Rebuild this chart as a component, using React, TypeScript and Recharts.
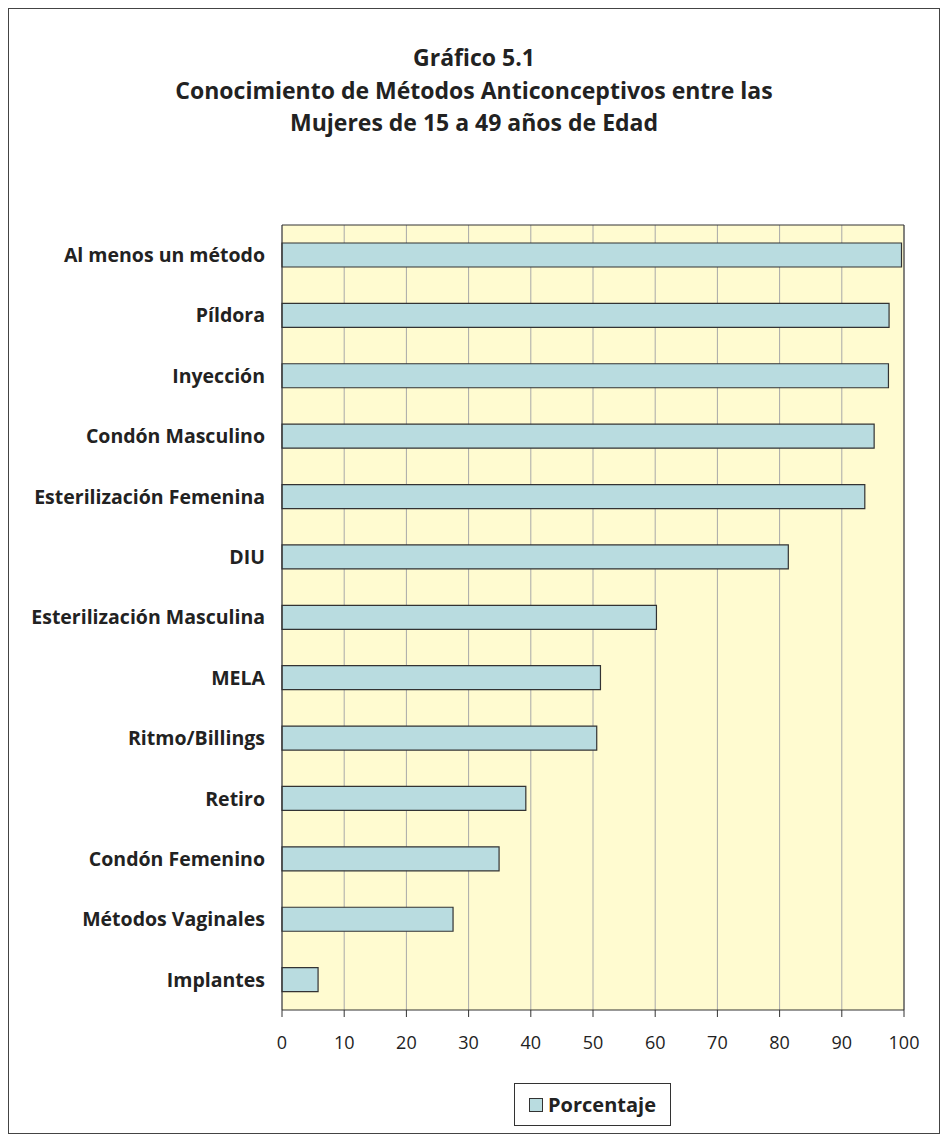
import { Bar, BarChart, CartesianGrid, XAxis, YAxis } from "recharts";

const methods = [
  "Al menos un método",
  "Píldora",
  "Inyección",
  "Condón Masculino",
  "Esterilización Femenina",
  "DIU",
  "Esterilización Masculina",
  "MELA",
  "Ritmo/Billings",
  "Retiro",
  "Condón Femenino",
  "Métodos Vaginales",
  "Implantes",
];

const percentages = [99.6, 97.6, 97.5, 95.2, 93.7, 81.4, 60.2, 51.2, 50.6, 39.2, 34.9, 27.5, 5.8];

const xTicks = [0, 10, 20, 30, 40, 50, 60, 70, 80, 90, 100];
const bandEdges = [0, 1, 2, 3, 4, 5, 6, 7, 8, 9, 10, 11, 12, 13];

const titleLines = [
  "Gráfico 5.1",
  "Conocimiento de Métodos Anticonceptivos entre las",
  "Mujeres de 15 a 49 años de Edad",
];

const data = methods.map((name, i) => ({ name, value: percentages[i] }));

const FONT = "'Open Sans', Lato, sans-serif";
const INK = "#222";
const BAR_FILL = "#b9dce0";

export default function App() {
  return (
    <div
      style={{
        position: "relative",
        width: 930,
        height: 1124,
        border: "1px solid #444",
        background: "#fff",
        fontFamily: FONT,
      }}
    >
      <div
        style={{
          position: "absolute",
          top: 32,
          left: 0,
          width: "100%",
          textAlign: "center",
          fontWeight: 700,
          fontSize: 23,
          lineHeight: "32.5px",
          color: INK,
        }}
      >
        {titleLines.map((t) => (
          <div key={t}>{t}</div>
        ))}
      </div>

      <BarChart
        width={930}
        height={1124}
        data={data}
        layout="vertical"
        margin={{ top: 215, right: 34, bottom: 83, left: 0 }}
        style={{ position: "absolute", left: 0, top: 0 }}
      >
        <CartesianGrid horizontal={false} stroke="#a8a8a8" fill="#fffbd0" yAxisId={1} />
        <XAxis
          type="number"
          domain={[0, 100]}
          ticks={xTicks}
          interval={0}
          height={40}
          tickSize={7}
          tickMargin={19}
          axisLine={{ stroke: "#333" }}
          tickLine={{ stroke: "#333" }}
          tick={{ fill: INK, fontSize: 18, fontFamily: FONT }}
        />
        <XAxis
          xAxisId="top"
          orientation="top"
          type="number"
          domain={[0, 100]}
          allowDataOverflow
          height={1}
          tick={false}
          tickLine={false}
          axisLine={{ stroke: "#333" }}
        />
        {/* band boundary ticks, sits right against the plot */}
        <YAxis
          yAxisId={0}
          type="number"
          domain={[0, 13]}
          allowDataOverflow
          ticks={bandEdges}
          interval={0}
          width={1}
          tick={false}
          tickSize={7}
          tickLine={{ stroke: "#333" }}
          axisLine={{ stroke: "#333" }}
        />
        <YAxis
          yAxisId={1}
          type="category"
          dataKey="name"
          width={272}
          interval={0}
          tickSize={0}
          tickMargin={16}
          axisLine={false}
          tickLine={false}
          tick={{ fill: INK, fontSize: 19.5, fontWeight: 700, fontFamily: FONT }}
        />
        <YAxis
          yAxisId="right"
          orientation="right"
          type="number"
          domain={[0, 13]}
          allowDataOverflow
          width={1}
          tick={false}
          tickLine={false}
          axisLine={{ stroke: "#333" }}
        />
        <Bar
          yAxisId={1}
          dataKey="value"
          name="Porcentaje"
          fill={BAR_FILL}
          stroke="#333"
          strokeWidth={1.2}
          barSize={24}
          isAnimationActive={false}
        />
      </BarChart>

      <div
        style={{
          position: "absolute",
          left: 505,
          top: 1074,
          width: 155,
          height: 41,
          border: "1px solid #333",
          display: "flex",
          alignItems: "center",
          justifyContent: "center",
          gap: 5,
          fontWeight: 700,
          fontSize: 20,
          color: INK,
          background: "#fff",
        }}
      >
        <span style={{ width: 12, height: 12, background: BAR_FILL, border: "1px solid #333" }} />
        <span>Porcentaje</span>
      </div>
    </div>
  );
}
